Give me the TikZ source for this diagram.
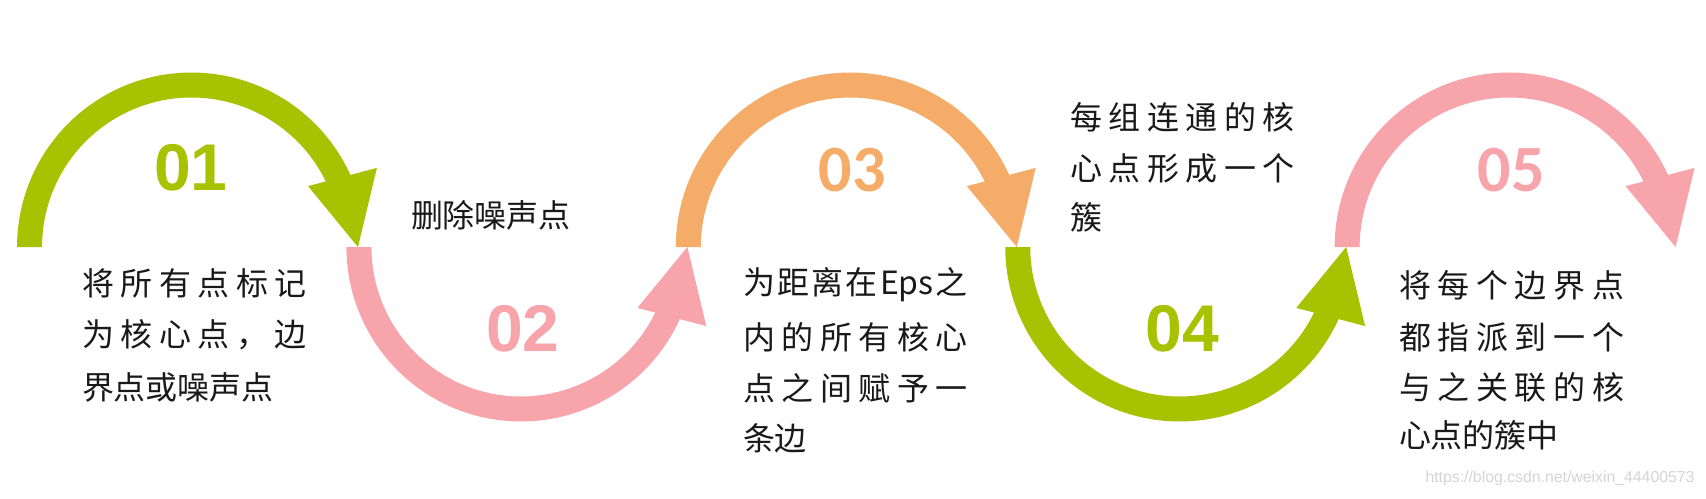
\documentclass[tikz,border=0pt]{standalone}
\usepackage{fontspec}
\newfontfamily\cjk{Noto Sans CJK SC}
\newfontfamily\numA{Liberation Sans}
\newfontfamily\numB{Carlito}
\newfontfamily\wmfont{Liberation Sans}
\definecolor{cgreen}{RGB}{166,194,0}
\definecolor{cpink}{RGB}{247,164,170}
\definecolor{corange}{RGB}{244,172,104}
\definecolor{cwm}{RGB}{212,212,212}
\tikzset{
  txt/.style={inner sep=0pt, outer sep=0pt, anchor=west, text=black!90,
    font=\cjk\fontsize{18.2pt}{20pt}\selectfont},
  numa/.style={inner sep=0pt, font=\numA\bfseries\fontsize{37.6pt}{40pt}\selectfont},
  numb/.style={inner sep=0pt, font=\numB\bfseries\fontsize{37.6pt}{40pt}\selectfont},
  wmark/.style={inner sep=0pt, text=cwm, font=\wmfont\fontsize{9pt}{10pt}\selectfont},
}
% #1 centre x, #2 yscale (1 = upper arc, -1 = lower arc), #3 colour
\newcommand\circarrow[3]{%
  \begin{scope}[shift={(#1,251)}, yscale=#2]
    \fill[#3] (180:3.49cm) arc[start angle=180, end angle=24.4, radius=3.49cm]
      -- (23.1:4.032cm) -- (0:3.33cm) -- (27.6:2.63cm) -- (26:2.99cm)
      arc[start angle=26, end angle=180, radius=2.99cm] -- cycle;
  \end{scope}}
\newcommand\jl[1]{\hbox to 4.5cm{#1}}
\begin{document}
\begin{tikzpicture}[x=0.02cm,y=0.02cm]
\useasboundingbox[fill=white] (0,0) rectangle (1706,498);
\circarrow{191.5}{1}{cgreen}
\circarrow{520.9}{-1}{cpink}
\circarrow{850.3}{1}{corange}
\circarrow{1179.7}{-1}{cgreen}
\circarrow{1509.1}{1}{cpink}
% numbers
\node[numa, text=cgreen]  (n1) at (191,498-168) {01};
\node[numa, text=cpink]   (n2) at (523,498-329) {02};
\node[numb, text=corange] (n3) at (852,498-170) {03};
\node[numa, text=cgreen]  (n4) at (1182,498-329) {04};
\node[numb, text=cpink]   (n5) at (1511,498-170) {05};
% text 1
\node[txt] (l1a) at (82,498-283) {\jl{将\hfill 所\hfill 有\hfill 点\hfill 标\hfill 记}};
\node[txt] (l1b) at (82,498-335) {\jl{为\hfill 核\hfill 心\hfill 点\hfill ，\hfill 边}};
\node[txt] (l1c) at (82,498-387) {界点或噪声点};
% text 2
\node[txt] (l2) at (411,498-215) {删除噪声点};
% text 3
\node[txt] (l3a) at (743,498-285) {\jl{为\hfill 距\hfill 离\hfill 在\hfill Eps\hfill 之}};
\node[txt] (l3b) at (743,498-337) {\jl{内\hfill 的\hfill 所\hfill 有\hfill 核\hfill 心}};
\node[txt] (l3c) at (743,498-388) {\jl{点\hfill 之\hfill 间\hfill 赋\hfill 予\hfill 一}};
\node[txt] (l3d) at (743,498-438) {条边};
% text 4
\node[txt] (l4a) at (1070,498-117) {\jl{每\hfill 组\hfill 连\hfill 通\hfill 的\hfill 核}};
\node[txt] (l4b) at (1070,498-168) {\jl{心\hfill 点\hfill 形\hfill 成\hfill 一\hfill 个}};
\node[txt] (l4c) at (1070,498-217) {簇};
% text 5
\node[txt] (l5a) at (1399,498-285) {\jl{将\hfill 每\hfill 个\hfill 边\hfill 界\hfill 点}};
\node[txt] (l5b) at (1399,498-337) {\jl{都\hfill 指\hfill 派\hfill 到\hfill 一\hfill 个}};
\node[txt] (l5c) at (1399,498-387) {\jl{与\hfill 之\hfill 关\hfill 联\hfill 的\hfill 核}};
\node[txt] (l5d) at (1399,498-435) {心点的簇中};
% watermark
\node[wmark] (wm) at (1560,498-478) {https://blog.csdn.net/weixin\_44400573};
\end{tikzpicture}
\end{document}
